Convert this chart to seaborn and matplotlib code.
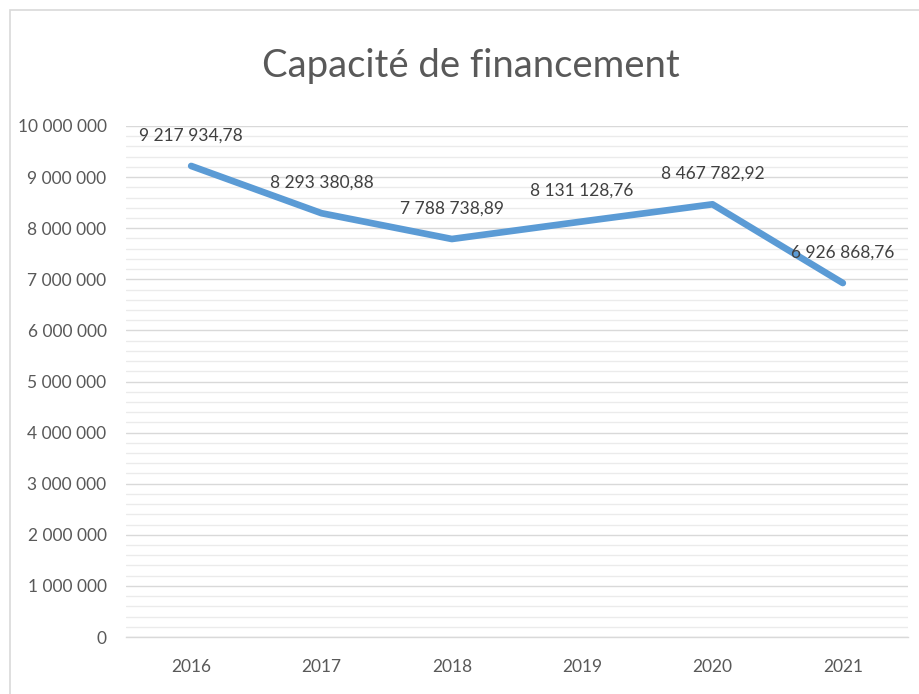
import matplotlib
matplotlib.use("Agg")
import matplotlib.pyplot as plt
from matplotlib.ticker import MultipleLocator, FuncFormatter
from matplotlib.patches import Rectangle
import seaborn as sns
import pandas as pd

years = [2016, 2017, 2018, 2019, 2020, 2021]
capacite = [9217934.78, 8293380.88, 7788738.89, 8131128.76, 8467782.92, 6926868.76]
title = "Capacité de financement"

sns.set_theme(style="white")
plt.rcParams["font.family"] = ["Lato", "DejaVu Sans"]

df = pd.DataFrame({"annee": years, "capacite": capacite})

fig = plt.figure(figsize=(9.19, 6.94), dpi=100)
ax = fig.add_axes([126 / 919, 1 - 637 / 694, (908 - 126) / 919, (637 - 126) / 694])

# outer chart frame
fig.patches.append(Rectangle((10 / 919, -0.1), 1.2, 1 - 10 / 694 + 0.1,
                             transform=fig.transFigure, fill=False,
                             edgecolor="#D9D9D9", linewidth=1.2))

sns.lineplot(data=df, x="annee", y="capacite", ax=ax, color="#5B9BD5",
             linewidth=4.8, solid_capstyle="round", solid_joinstyle="round",
             zorder=3)

ax.set_xlim(2015.5, 2021.5)
ax.set_ylim(0, 10_000_000)
ax.yaxis.set_major_locator(MultipleLocator(1_000_000))
ax.yaxis.set_minor_locator(MultipleLocator(200_000))
ax.set_xticks(years)
ax.set_xticklabels([str(y) for y in years])


def fmt_int(v, _pos=None):
    return f"{int(round(v)):,}".replace(",", " ")


def fmt_dec(v):
    s = f"{v:,.2f}"
    return s.replace(",", " ").replace(".", ",")


ax.yaxis.set_major_formatter(FuncFormatter(fmt_int))
ax.grid(which="major", axis="y", color="#D9D9D9", linewidth=1.0)
ax.grid(which="minor", axis="y", color="#EBEBEB", linewidth=1.0)
ax.set_axisbelow(True)
for s in ["top", "right", "left"]:
    ax.spines[s].set_visible(False)
ax.spines["bottom"].set_color("#D9D9D9")
ax.spines["bottom"].set_linewidth(1.0)
ax.tick_params(axis="both", which="both", length=0, labelsize=12.5,
               colors="#595959")
ax.tick_params(axis="y", pad=14)
ax.tick_params(axis="x", pad=16)
ax.set_xlabel("")
ax.set_ylabel("")

for x, v in zip(years, capacite):
    ax.annotate(fmt_dec(v), (x, v), xytext=(0, 22), textcoords="offset points",
                ha="center", va="center", fontsize=12.5, color="#404040",
                zorder=4)

fig.text(0.512, 1 - 66 / 694, title, ha="center", va="center",
         fontsize=27.5, color="#595959")

fig.savefig("out.png", dpi=100)
